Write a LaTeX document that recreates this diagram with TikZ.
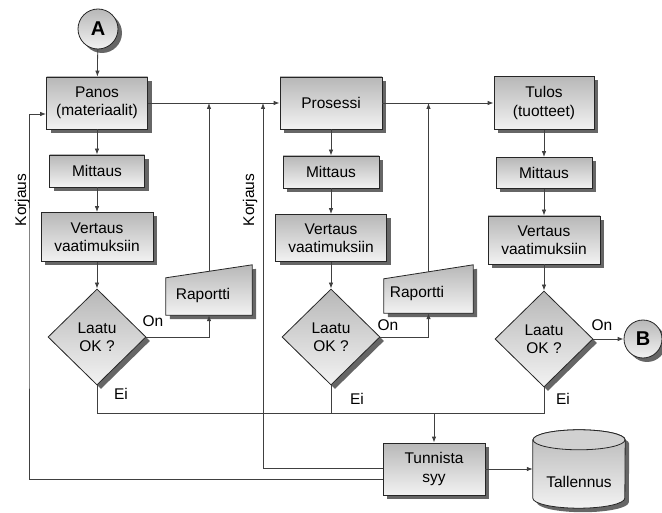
\documentclass[tikz,border=0pt]{standalone}
\usepackage{fontspec}
\setmainfont{Liberation Sans}
\usetikzlibrary{arrows.meta,shapes.geometric,shadows,backgrounds,calc}

\begin{document}
\begin{tikzpicture}[x=1pt,y=-1pt,
  every node/.style={font=\fontsize{15.5}{18.5}\selectfont, text=black, align=center},
  wire/.style={draw=black!75, line width=0.8pt},
  arr/.style={wire, -{Latex[length=6pt,width=4.5pt]}},
  greyfill/.style={top color=black!28, bottom color=black!5},
  outline/.style={draw=black!85, line width=0.8pt},
  shadowc/.style={fill=black!60},
  dshadow/.style={drop shadow={shadow xshift=4pt, shadow yshift=-4pt, fill=black!60, opacity=1}},
  box/.style={rectangle, outline, greyfill, dshadow, inner sep=0pt},
  dia/.style={diamond, outline, greyfill, dshadow, inner sep=0pt, aspect=1,
              minimum width=98pt, minimum height=96pt},
  conn/.style={circle, outline, greyfill, dshadow, inner sep=0pt,
               font=\fontsize{20}{20}\selectfont\bfseries},
  slab/.style={rectangle, inner sep=0pt},
  tag/.style={inner sep=0pt}
]
\useasboundingbox (0,0) rectangle (662,513);

% ---- connector A ----
\node[conn, minimum size=40pt] (A) at (98,29) {A};

% ---- column 1: input ----
\node[box, minimum width=101pt, minimum height=52pt] (panos) at (97,103) {Panos\\(materiaalit)};
\node[box, minimum width=95pt, minimum height=32pt] (mit1) at (97,171) {Mittaus};
\node[box, minimum width=112pt, minimum height=49pt] (ver1) at (97,237) {Vertaus\\vaatimuksiin};
\node[dia] (d1) at (97,337) {Laatu\\OK ?};

% ---- column 2: process ----
\node[box, minimum width=102pt, minimum height=52pt] (pros) at (331,103) {Prosessi};
\node[box, minimum width=96pt, minimum height=32pt] (mit2) at (331,172) {Mittaus};
\node[box, minimum width=111pt, minimum height=47pt] (ver2) at (331,238) {Vertaus\\vaatimuksiin};
\node[dia] (d2) at (331,337) {Laatu\\OK ?};

% ---- column 3: output ----
\node[box, minimum width=100pt, minimum height=53pt] (tulos) at (544,103) {Tulos\\(tuotteet)};
\node[box, minimum width=96pt, minimum height=31pt] (mit3) at (544,173) {Mittaus};
\node[box, minimum width=112pt, minimum height=48pt] (ver3) at (544,240) {Vertaus\\vaatimuksiin};
\node[dia] (d3) at (544,339) {Laatu\\OK ?};

% ---- connector B ----
\node[conn, minimum size=38pt] (B) at (643,339) {B};

% ---- reports (manual input shapes) ----
\node[slab, minimum width=86pt, minimum height=50pt,
      label={[tag, xshift=-6pt, yshift=-5pt]center:Raportti}] (rap1) at (209,290) {};
\node[slab, minimum width=89pt, minimum height=48pt,
      label={[tag, xshift=-11.5pt, yshift=-4pt]center:Raportti}] (rap2) at (428.5,289) {};

% ---- cause analysis and storage ----
\node[box, minimum width=102pt, minimum height=52pt] (tun) at (434,469) {Tunnista\\syy};
\node[slab, minimum width=92pt, minimum height=78pt,
      label={[tag, yshift=-13pt]center:Tallennus}] (tal) at (579,469) {};

\begin{pgfonlayer}{background}
  % report shapes with shadows
  \fill[shadowc] ([shift={(4,4)}]rap1.south west) -- ([shift={(4,4)}]rap1.south east)
     -- ([shift={(4,4)}]rap1.north east) -- ([shift={(4,17)}]rap1.north west) -- cycle;
  \draw[outline, greyfill] (rap1.south west) -- (rap1.south east) -- (rap1.north east)
     -- ([yshift=-13pt]rap1.north west) -- cycle;
  \fill[shadowc] ([shift={(4,4)}]rap2.south west) -- ([shift={(4,4)}]rap2.south east)
     -- ([shift={(4,4)}]rap2.north east) -- ([shift={(4,18)}]rap2.north west) -- cycle;
  \draw[outline, greyfill] (rap2.south west) -- (rap2.south east) -- (rap2.north east)
     -- ([yshift=-14pt]rap2.north west) -- cycle;
  % storage cylinder
  \fill[shadowc] ([shift={(4,14)}]tal.north west) -- ([shift={(4,-6)}]tal.south west)
     arc[start angle=180, end angle=0, x radius=46, y radius=10]
     -- ([shift={(4,14)}]tal.north east)
     arc[start angle=0, end angle=-180, x radius=46, y radius=10] -- cycle;
  \draw[outline, greyfill] ([yshift=-10pt]tal.north west) -- ([yshift=10pt]tal.south west)
     arc[start angle=180, end angle=0, x radius=46, y radius=10]
     -- ([yshift=-10pt]tal.north east)
     arc[start angle=0, end angle=-180, x radius=46, y radius=10] -- cycle;
  \draw[outline, fill=black!18] ([yshift=-10pt]tal.north) ellipse [x radius=46, y radius=10];
\end{pgfonlayer}

% ---- main flow ----
\draw[arr] (A) -- (panos);
\draw[arr] (panos) -- (mit1);
\draw[arr] (mit1) -- (ver1);
\draw[arr] (ver1) -- (d1);
\draw[arr] (pros) -- (mit2);
\draw[arr] (mit2) -- (ver2);
\draw[arr] (ver2) -- (d2);
\draw[arr] (tulos) -- (mit3);
\draw[arr] (mit3) -- (ver3);
\draw[arr] (ver3) -- (d3);
\draw[arr] (panos.east) -- (pros.west);
\draw[arr] (pros.east) -- (tulos.west);
\draw[arr] (d3.east) -- (B.west);

% ---- accepted: report back to the main line ----
\draw[arr] (d1.east) -| (rap1.south);
\draw[arr] ([yshift=-6.5pt]rap1.north) -- (rap1.north |- panos.east);
\draw[arr] (d2.east) -| (rap2.south);
\draw[arr] ([yshift=-7pt]rap2.north) -- (rap2.north |- pros.east);

% ---- rejected: collect to cause analysis ----
\coordinate (j) at (434,413);
\draw[wire] (d1.south) |- (j);
\draw[wire] (d3.south) |- (j);
\draw[wire] (d2.south) -- (d2.south |- j);
\draw[arr] (j) -- (tun.north);
\draw[arr] (tun.east) -- (tal.west);

% ---- corrections ----
\coordinate (k1) at (29,300);
\coordinate (k2) at (263,103);
\draw[arr] ([yshift=-10pt]tun.west) -| (k1) |- ([yshift=-11pt]panos.west);
\draw[arr] ([yshift=1pt]tun.west) -| (k2);

% ---- labels ----
\node[tag] (on1) at (153,321) {On};
\node[tag] (on2) at (388,325) {On};
\node[tag] (on3) at (602,325) {On};
\node[tag] (ei1) at (121,394) {Ei};
\node[tag] (ei2) at (357,399) {Ei};
\node[tag] (ei3) at (563,399) {Ei};
\node[tag, rotate=90] (kor1) at (22,200) {Korjaus};
\node[tag, rotate=90] (kor2) at (250,200) {Korjaus};
\end{tikzpicture}
\end{document}
